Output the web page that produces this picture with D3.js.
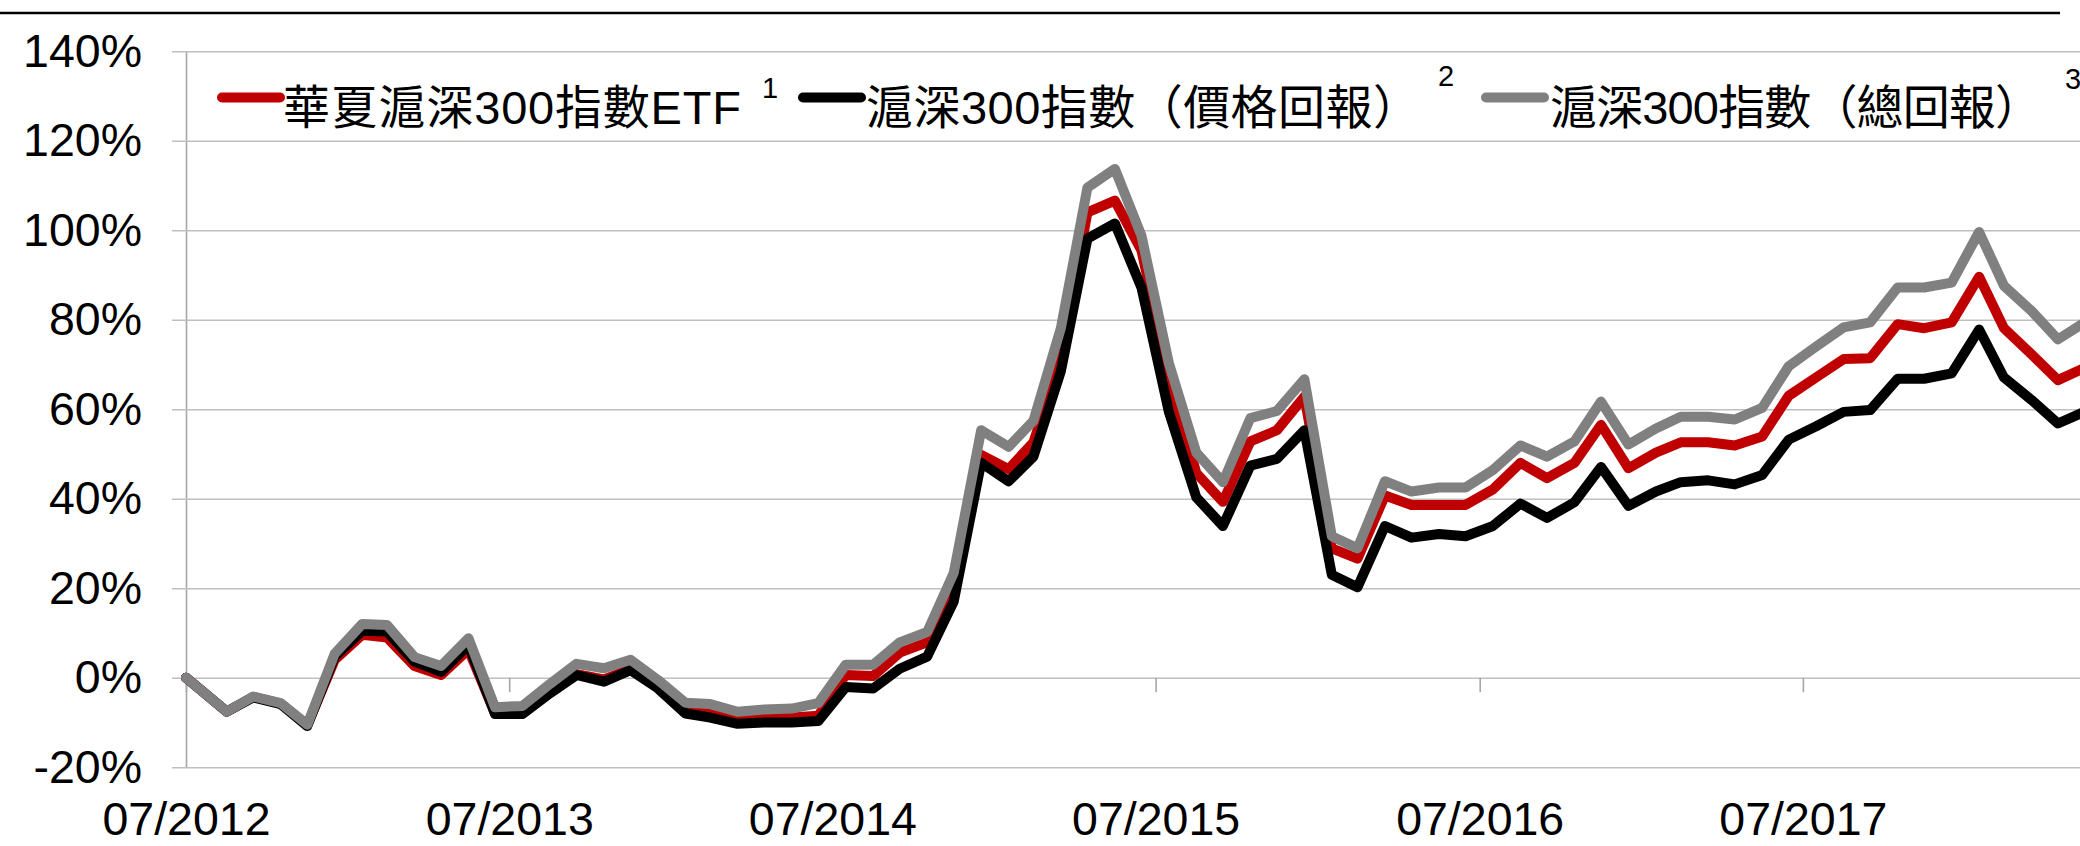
<!DOCTYPE html>
<html>
<head>
<meta charset="utf-8">
<script src="https://cdn.jsdelivr.net/npm/d3@7"></script>
<style>
  html, body { margin: 0; padding: 0; background: #ffffff; }
  svg { display: block; }
  text { font-family: "Liberation Sans", Arial, "Noto Sans CJK TC", sans-serif; fill: #000; }
</style>
</head>
<body>
<svg id="chart" width="2080" height="846"></svg>
<script>
// ---------------- data ----------------
const dates = [
  "2012-07-16","2012-08-31","2012-09-30","2012-10-31","2012-11-30","2012-12-31",
  "2013-01-31","2013-02-28","2013-03-31","2013-04-30","2013-05-31","2013-06-30",
  "2013-07-31","2013-08-31","2013-09-30","2013-10-31","2013-11-30","2013-12-31",
  "2014-01-31","2014-02-28","2014-03-31","2014-04-30","2014-05-31","2014-06-30",
  "2014-07-31","2014-08-31","2014-09-30","2014-10-31","2014-11-30","2014-12-31",
  "2015-01-31","2015-02-28","2015-03-31","2015-04-30","2015-05-31","2015-06-30",
  "2015-07-31","2015-08-31","2015-09-30","2015-10-31","2015-11-30","2015-12-31",
  "2016-01-31","2016-02-29","2016-03-31","2016-04-30","2016-05-31","2016-06-30",
  "2016-07-31","2016-08-31","2016-09-30","2016-10-31","2016-11-30","2016-12-31",
  "2017-01-31","2017-02-28","2017-03-31","2017-04-30","2017-05-31","2017-06-30",
  "2017-07-31","2017-08-31","2017-09-30","2017-10-31","2017-11-30","2017-12-31",
  "2018-01-31","2018-02-28","2018-03-31","2018-04-30","2018-05-31"
];

// 華夏滬深300指數ETF (%)
const etfValues = [
  0,-7.6,-4.3,-5.8,-10.6,4.0,9.6,9.0,2.6,0.6,6.3,-8.0,
  -8.0,-3.0,0.8,-0.4,1.9,-2.0,-7.5,-8.0,-9.4,-9.1,-8.9,-8.5,
  0.6,0.4,5.6,7.9,21.1,49.8,46.6,52.6,71.2,104.0,106.6,95.5,
  67.5,45.7,39.3,52.8,55.3,62.8,28.9,26.6,40.7,38.6,38.6,38.6,
  42.1,48.0,44.6,48.0,56.5,46.8,50.3,52.6,52.6,51.9,53.9,63.0,
  67.1,71.2,71.4,79.0,78.1,79.4,89.6,78.1,72.3,66.5,69.3
];

// 滬深300指數（價格回報）(%)
const priceValues = [
  0,-7.6,-4.4,-5.9,-10.8,4.7,10.5,10.3,3.6,1.3,7.3,-8.1,
  -8.1,-3.5,0.6,-0.9,1.7,-2.4,-8.0,-8.9,-10.3,-10.0,-10.0,-9.7,
  -2.1,-2.4,2.0,4.7,17.0,48.0,43.9,49.4,68.5,98.1,101.5,87.2,
  59.4,40.3,33.9,47.4,48.9,55.3,23.0,20.2,33.9,31.3,32.1,31.6,
  33.9,38.9,35.7,39.2,47.1,38.4,41.6,43.7,44.1,43.2,45.3,53.2,
  56.2,59.4,59.8,66.8,66.8,68.0,77.8,67.1,62.1,56.8,59.5
];

// 滬深300指數（總回報）(%)
const totalValues = [
  0,-7.6,-4.2,-5.7,-10.5,5.4,12.0,11.8,4.6,2.6,8.8,-6.6,
  -6.3,-1.4,3.1,2.1,4.0,-0.5,-5.6,-5.9,-7.6,-7.1,-6.9,-5.7,
  2.9,2.9,7.9,10.2,23.4,55.3,51.6,57.4,78.1,109.5,113.7,98.8,
  70.3,50.3,43.7,58.0,59.6,66.7,31.6,28.9,43.9,41.6,42.5,42.5,
  46.4,51.9,49.4,52.8,61.7,52.1,55.7,58.3,58.3,57.7,60.3,69.6,
  74.0,78.3,79.4,87.2,87.2,88.3,99.6,87.6,82.0,75.6,79.5
];

const seriesNames = ["華夏滬深300指數ETF", "滬深300指數（價格回報）", "滬深300指數（總回報）"];
const seriesNotes = ["1", "2", "3"];

const yTicks = [-20, 0, 20, 40, 60, 80, 100, 120, 140];
const xTickDates = ["2012-07-16","2013-07-16","2014-07-16","2015-07-16","2016-07-16","2017-07-16"];
const xTickLabels = ["07/2012","07/2013","07/2014","07/2015","07/2016","07/2017"];

// ---------------- layout ----------------
const W = 2080, H = 846;
const left = 186;
const y0 = 677.7, step20 = 89.5;
const parse = d3.utcParse("%Y-%m-%d");
const colors = ["#c00000", "#000000", "#808080"];

const svg = d3.select("#chart");

const x = d3.scaleUtc()
  .domain([parse("2012-07-16"), parse("2018-07-16")])
  .range([left, left + 6 * 323.35]);

const y = d3.scaleLinear()
  .domain([-20, 140])
  .range([y0 + step20, y0 - 7 * step20]);

// top rule
svg.append("line")
  .attr("x1", 0).attr("x2", 2060)
  .attr("y1", 13).attr("y2", 13)
  .attr("stroke", "#000").attr("stroke-width", 2.4);

// y axis + gridlines
const yAxis = d3.axisLeft(y)
  .tickValues(yTicks)
  .tickFormat(d => d + "%")
  .tickSizeInner(-(W - left))
  .tickSizeOuter(0)
  .tickPadding(44);

const gy = svg.append("g")
  .attr("transform", `translate(${left},0)`)
  .call(yAxis);
gy.select(".domain").attr("stroke", "#a6a6a6").attr("stroke-width", 1.6);
gy.selectAll(".tick line")
  .attr("x1", -14)
  .attr("stroke", "#bfbfbf").attr("stroke-width", 1.6);
gy.selectAll(".tick text")
  .attr("font-family", '"Liberation Sans", Arial, sans-serif')
  .attr("font-size", 46.5)
  .attr("fill", "#000");

// x axis at 0%
const xAxis = d3.axisBottom(x)
  .tickValues(xTickDates.map(parse))
  .tickFormat((d, i) => xTickLabels[i])
  .tickSizeInner(14.5)
  .tickSizeOuter(0)
  .tickPadding(110);

const gx = svg.append("g")
  .attr("transform", `translate(0,${y(0)})`)
  .call(xAxis);
gx.select(".domain").remove();
gx.selectAll(".tick line").attr("stroke", "#a6a6a6").attr("stroke-width", 1.6);
gx.selectAll(".tick text")
  .attr("font-family", '"Liberation Sans", Arial, sans-serif')
  .attr("font-size", 46.5)
  .attr("fill", "#000");

// lines
const series = [etfValues, priceValues, totalValues];
const line = d3.line()
  .x((d, i) => x(parse(dates[i])))
  .y(d => y(d));

series.forEach((vals, k) => {
  svg.append("path")
    .datum(vals)
    .attr("d", line)
    .attr("fill", "none")
    .attr("stroke", colors[k])
    .attr("stroke-width", 10)
    .attr("stroke-linejoin", "round")
    .attr("stroke-linecap", "round");
});

// legend
const legendItems = [
  { lx: 222, tx: 283, len: 458, sx: 762, sy: 98 },
  { lx: 803, tx: 866, len: 554, sx: 1438, sy: 86 },
  { lx: 1486, tx: 1550, len: 492, sx: 2065, sy: 89 }
];
const lg = svg.append("g");
legendItems.forEach((it, k) => {
  lg.append("line")
    .attr("x1", it.lx).attr("x2", it.lx + 58)
    .attr("y1", 97.5).attr("y2", 97.5)
    .attr("stroke", colors[k]).attr("stroke-width", 10)
    .attr("stroke-linecap", "round");
  lg.append("text")
    .attr("x", it.tx).attr("y", 124)
    .attr("font-size", 47)
    .attr("textLength", it.len)
    .attr("lengthAdjust", "spacing")
    .text(seriesNames[k]);
  lg.append("text")
    .attr("x", it.sx).attr("y", it.sy)
    .attr("font-size", 29)
    .text(seriesNotes[k]);
});
</script>
</body>
</html>
